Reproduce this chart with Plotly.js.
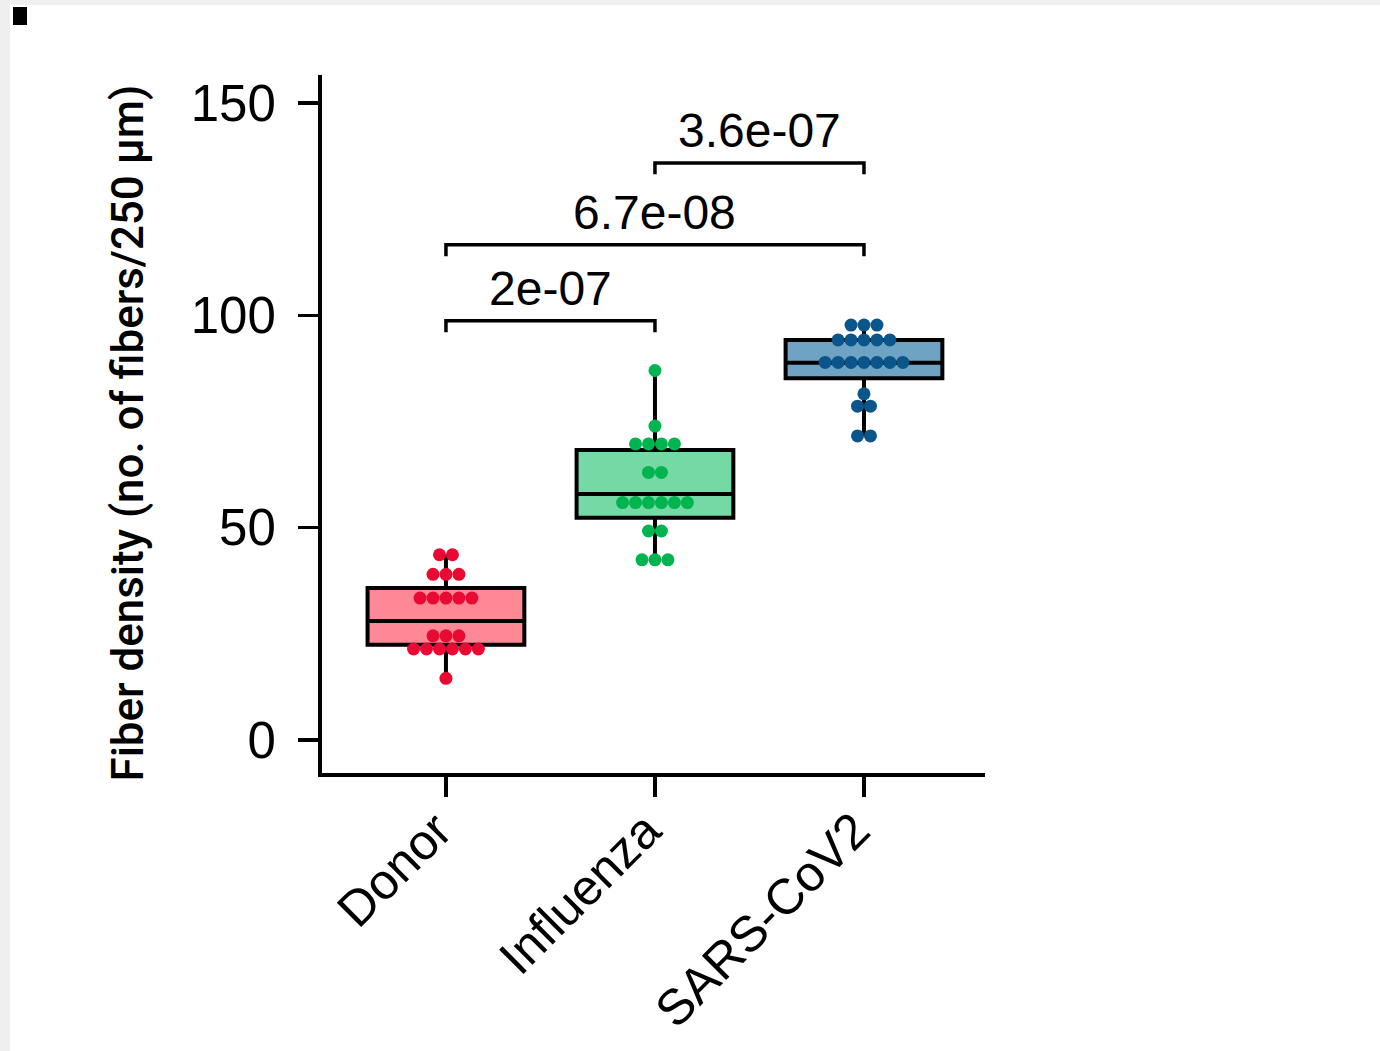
<!DOCTYPE html>
<html>
<head>
<meta charset="utf-8">
<script src="https://cdn.plot.ly/plotly-3.0.1.min.js"></script>
<style>
  html, body { margin: 0; padding: 0; background: #ffffff; }
  #chart { width: 1380px; height: 1051px; }
</style>
</head>
<body>
<div id="chart"></div>
<script>
// ---- data ----
const groups = ['Donor', 'Influenza', 'SARS-CoV2'];

const donorValues = [43.6, 43.6, 39.0, 39.0, 39.0, 33.4, 33.4, 33.4, 33.4, 33.4,
                     24.5, 24.5, 24.5, 21.4, 21.4, 21.4, 21.4, 21.4, 21.4, 14.5];
const influenzaValues = [87.0, 73.9, 69.7, 69.7, 69.7, 69.7, 63.0, 63.0,
                         55.9, 55.9, 55.9, 55.9, 55.9, 55.9, 49.2, 49.2, 42.4, 42.4, 42.4];
const sarsValues = [97.7, 97.7, 97.7, 94.2, 94.2, 94.2, 94.2, 94.2,
                    88.9, 88.9, 88.9, 88.9, 88.9, 88.9, 88.9, 81.5, 78.6, 78.6, 71.6, 71.6];

// box statistics (as drawn)
const boxQ1 = [22.4, 52.3, 85.2];
const boxMedian = [28.0, 57.9, 88.8];
const boxQ3 = [35.8, 68.3, 94.2];
const boxLower = [14.5, 42.4, 71.6];
const boxUpper = [43.6, 87.0, 97.7];

// comparison brackets
const bracketFrom = [0, 0, 1];
const bracketTo = [1, 2, 2];
const bracketHeight = [98.7, 116.6, 135.9];
const pValueLabels = ['2e-07', '6.7e-08', '3.6e-07'];

const yTickValues = [0, 50, 100, 150];
const yTitle = 'Fiber density (no. of fibers/250 µm)';

// ---- styles ----
const fillColors = ['#FF8896', '#74D9A5', '#6EA3C3'];
const dotColors = ['#E80A32', '#00B550', '#0A568A'];
const FONT = 'Liberation Sans, Arial, Helvetica, sans-serif';
const TITLE_FONT = 'Roboto, Liberation Sans, Arial, sans-serif';

// fit the title font size to the reference title length (697 px)
function fitSize(text, family, weight, target) {
  const c = document.createElement('canvas').getContext('2d');
  c.font = weight + ' 100px ' + family;
  const w = c.measureText(text).width;
  return Math.round(100 * target / w * 10) / 10;
}
const titleSize = fitSize(yTitle, TITLE_FONT, 500, 697);

const seriesValues = [donorValues, influenzaValues, sarsValues];
const traces = [];

// boxes
for (let g = 0; g < groups.length; g++) {
  traces.push({
    type: 'box',
    x: [g],
    q1: [boxQ1[g]],
    median: [boxMedian[g]],
    q3: [boxQ3[g]],
    lowerfence: [boxLower[g]],
    upperfence: [boxUpper[g]],
    width: 0.75,
    whiskerwidth: 0,
    fillcolor: fillColors[g],
    line: { color: '#000000', width: 4 },
    boxpoints: false,
    showlegend: false,
    hoverinfo: 'skip'
  });
}

// dot plot: dots with equal value spread side by side
const dotStep = 0.062;
for (let g = 0; g < groups.length; g++) {
  const vals = seriesValues[g];
  const counts = {};
  vals.forEach(v => { counts[v] = (counts[v] || 0) + 1; });
  const seen = {};
  const xs = [], ys = [];
  vals.forEach(v => {
    const n = counts[v];
    const i = seen[v] || 0;
    seen[v] = i + 1;
    xs.push(g + (i - (n - 1) / 2) * dotStep);
    ys.push(v);
  });
  traces.push({
    type: 'scatter',
    mode: 'markers',
    x: xs,
    y: ys,
    marker: { color: dotColors[g], size: 13, line: { width: 0 } },
    showlegend: false,
    hoverinfo: 'skip'
  });
}

// brackets
const legDrop = 2.7;
const annotations = [];
for (let b = 0; b < bracketHeight.length; b++) {
  const h = bracketHeight[b];
  traces.push({
    type: 'scatter',
    mode: 'lines',
    x: [bracketFrom[b], bracketFrom[b], bracketTo[b], bracketTo[b]],
    y: [h - legDrop, h, h, h - legDrop],
    line: { color: '#000000', width: 3.5 },
    showlegend: false,
    hoverinfo: 'skip'
  });
  annotations.push({
    x: (bracketFrom[b] + bracketTo[b]) / 2,
    y: h,
    xref: 'x', yref: 'y',
    text: pValueLabels[b],
    showarrow: false,
    yanchor: 'bottom',
    yshift: 4,
    font: { family: FONT, size: 48, color: '#000000' }
  });
}

// y-axis title
annotations.push({
  xref: 'paper', yref: 'paper',
  x: (128 - 322) / 663, y: (773 - 433.5) / 698,
  text: yTitle,
  textangle: -90,
  showarrow: false,
  xanchor: 'center', yanchor: 'middle',
  font: { family: TITLE_FONT, size: titleSize, weight: 500, color: '#000000' }
});

const layout = {
  width: 1380,
  height: 1051,
  margin: { l: 322, r: 395, t: 75, b: 278, pad: 0 },
  paper_bgcolor: '#ffffff',
  plot_bgcolor: '#ffffff',
  showlegend: false,
  font: { family: FONT, color: '#000000' },
  xaxis: {
    range: [-0.593, 2.579],
    tickvals: [0, 1, 2],
    ticktext: groups,
    tickangle: -45,
    ticks: 'outside',
    ticklen: 20,
    tickwidth: 3.5,
    tickcolor: '#000000',
    ticklabelstandoff: -16,
    ticklabelshift: -9,
    showline: true,
    linewidth: 4,
    linecolor: '#000000',
    showgrid: false,
    zeroline: false,
    tickfont: { family: FONT, size: 50, color: '#000000' }
  },
  yaxis: {
    range: [-7.8, 156.6],
    tickvals: yTickValues,
    ticks: 'outside',
    ticklen: 20,
    tickwidth: 3.5,
    tickcolor: '#000000',
    ticklabelstandoff: 12,
    showline: true,
    linewidth: 4,
    linecolor: '#000000',
    showgrid: false,
    zeroline: false,
    tickfont: { family: FONT, size: 51, color: '#000000' }
  },
  annotations: annotations,
  shapes: [
    { type: 'rect', xref: 'paper', yref: 'paper', layer: 'above',
      x0: (0 - 322) / 663, x1: (1380 - 322) / 663, y0: (773 - 0) / 698, y1: (773 - 5) / 698,
      fillcolor: '#EFEFEF', line: { width: 0 } },
    { type: 'rect', xref: 'paper', yref: 'paper', layer: 'above',
      x0: (0 - 322) / 663, x1: (10 - 322) / 663, y0: (773 - 0) / 698, y1: (773 - 1051) / 698,
      fillcolor: '#EFEFEF', line: { width: 0 } },
    { type: 'rect', xref: 'paper', yref: 'paper', layer: 'above',
      x0: (13 - 322) / 663, x1: (27 - 322) / 663, y0: (773 - 7) / 698, y1: (773 - 25) / 698,
      fillcolor: '#000000', line: { width: 0 } }
  ]
};

Plotly.newPlot('chart', traces, layout, { displayModeBar: false, staticPlot: true });
</script>
</body>
</html>
